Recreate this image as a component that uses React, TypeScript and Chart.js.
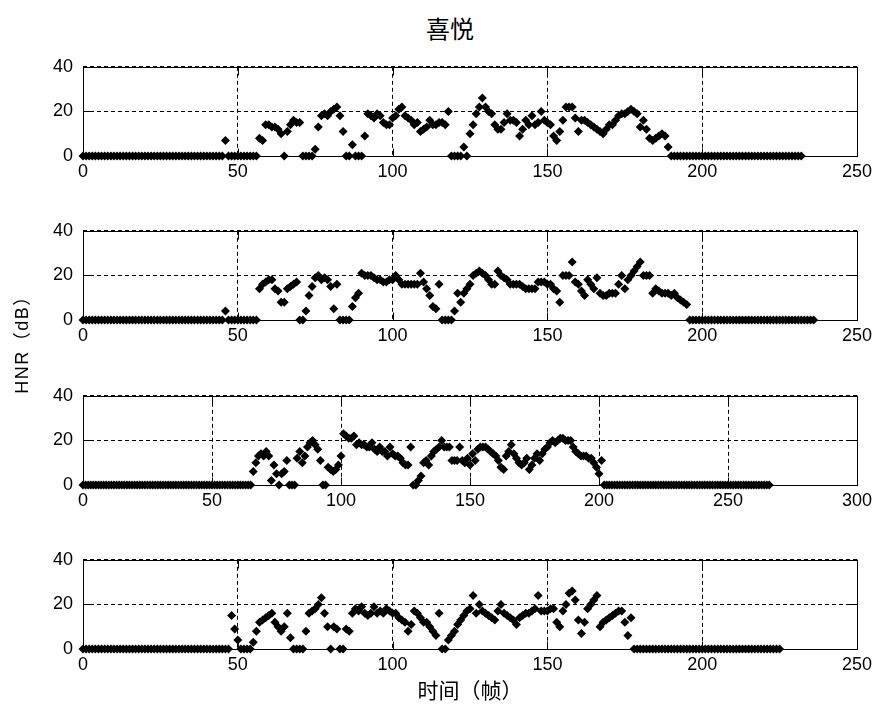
import React, { useEffect, useRef } from "react";
import { Chart, registerables } from "chart.js";

Chart.register(...registerables);

const titleText = "喜悦";
const yLabelText = "HNR（dB）";
const xLabelText = "时间（帧）";

const yTickStep = 20;
const yMin = 0;
const yMax = 40;
const xTickStep = 50;
const xMaxes = [250, 250, 300, 250];

// HNR (dB) per frame, panel 1..4 (frame index = array position)
const hnr1 = [
  0, 0, 0, 0, 0, 0, 0, 0, 0, 0, 0, 0, 0, 0, 0, 0, 0, 0, 0, 0,
  0, 0, 0, 0, 0, 0, 0, 0, 0, 0, 0, 0, 0, 0, 0, 0, 0, 0, 0, 0,
  0, 0, 0, 0, 0, 0, 7, 0, 0, 0, 0, 0, 0, 0, 0, 0, 0,
  8, 7, 14, 14, 13, 13, 12, 10, 0, 11,
  14, 16, 15, 15, 0, 0, 0, 0, 3, 13,
  18, 19, 18, 20, 21, 22, 18, 11, 0, 0,
  5, 0, 0, 0, 9, 19, 18, 17, 19, 18,
  15, 14, 14, 17, 18, 21, 22, 18, 17, 16,
  14, 15, 11, 12, 13, 16, 14, 14, 15, 15,
  14, 20, 0, 0, 0, 0, 4, 0, 10, 14,
  19, 22, 26, 22, 20, 19, 14, 12, 12, 15,
  19, 16, 16, 15, 9, 12, 16, 14, 18, 14,
  15, 20, 16, 15, 14, 9, 7, 11, 16, 22,
  22, 22, 17, 11, 16, 16, 15, 14, 13, 12,
  11, 10, 12, 14, 14, 16, 18, 19, 19, 20,
  21, 20, 19, 13, 16, 12, 8, 7, 8, 9,
  10, 9, 4,
  0, 0, 0, 0, 0, 0, 0, 0, 0, 0, 0, 0, 0, 0, 0, 0, 0, 0, 0, 0,
  0, 0, 0, 0, 0, 0, 0, 0, 0, 0, 0, 0, 0, 0, 0, 0, 0, 0, 0, 0,
  0, 0, 0,
];

const hnr2 = [
  0, 0, 0, 0, 0, 0, 0, 0, 0, 0, 0, 0, 0, 0, 0, 0, 0, 0, 0, 0,
  0, 0, 0, 0, 0, 0, 0, 0, 0, 0, 0, 0, 0, 0, 0, 0, 0, 0, 0, 0,
  0, 0, 0, 0, 0, 0, 4, 0, 0, 0, 0, 0, 0, 0, 0, 0, 0,
  14, 16, 17, 18, 18, 14, 13, 8, 8, 14,
  15, 16, 17, 0, 0, 4, 11, 15, 19, 20,
  18, 19, 18, 15, 5, 16, 0, 0, 0, 0,
  6, 10, 12, 21, 20, 20, 20, 19, 18, 18,
  17, 17, 18, 18, 20, 18, 16, 16, 16, 16,
  16, 16, 21, 17, 14, 11, 6, 5, 16, 0,
  0, 0, 0, 4, 12, 8, 12, 14, 16, 20,
  21, 22, 21, 20, 18, 16, 16, 22, 20, 19,
  18, 16, 16, 16, 16, 15, 14, 14, 14, 14,
  17, 17, 17, 16, 16, 14, 13, 8, 20, 20,
  20, 26, 17, 16, 13, 11, 18, 16, 14, 19,
  12, 11, 11, 12, 12, 12, 16, 20, 14, 18,
  20, 22, 24, 26, 20, 20, 20, 12, 14, 13,
  12, 12, 12, 11, 12, 10, 9, 8, 7,
  0, 0, 0, 0, 0, 0, 0, 0, 0, 0, 0, 0, 0, 0, 0, 0, 0, 0, 0, 0,
  0, 0, 0, 0, 0, 0, 0, 0, 0, 0, 0, 0, 0, 0, 0, 0, 0, 0, 0, 0,
  0,
];

const hnr3 = [
  0, 0, 0, 0, 0, 0, 0, 0, 0, 0, 0, 0, 0, 0, 0, 0, 0, 0, 0, 0,
  0, 0, 0, 0, 0, 0, 0, 0, 0, 0, 0, 0, 0, 0, 0, 0, 0, 0, 0, 0,
  0, 0, 0, 0, 0, 0, 0, 0, 0, 0, 0, 0, 0, 0, 0, 0, 0, 0, 0, 0,
  0, 0, 0, 0, 0, 0,
  6, 10, 13, 14, 13, 15, 13, 2, 9, 5,
  0, 5, 6, 11, 0, 0, 0, 12, 15, 10,
  13, 17, 19, 20, 18, 16, 11, 0, 0, 8,
  7, 6, 7, 9, 13, 23, 22, 21, 21, 22,
  18, 19, 18, 18, 17, 17, 19, 16, 15, 17,
  15, 15, 13, 17, 14, 13, 13, 12, 10, 9,
  9, 17, 0, 0, 2, 4, 10, 11, 9, 13,
  15, 16, 17, 20, 17, 17, 17, 11, 11, 11,
  17, 11, 10, 12, 9, 14, 11, 16, 17, 17,
  17, 16, 15, 14, 13, 11, 8, 7, 13, 15,
  18, 14, 12, 10, 9, 10, 12, 7, 9, 12,
  14, 11, 14, 16, 17, 19, 20, 19, 20, 21,
  21, 20, 20, 20, 17, 15, 14, 13, 13, 13,
  12, 12, 10, 8, 5, 11,
  0, 0, 0, 0, 0, 0, 0, 0, 0, 0, 0, 0, 0, 0, 0, 0, 0, 0, 0, 0,
  0, 0, 0, 0, 0, 0, 0, 0, 0, 0, 0, 0, 0, 0, 0, 0, 0, 0, 0, 0,
  0, 0, 0, 0, 0, 0, 0, 0, 0, 0, 0, 0, 0, 0, 0, 0, 0, 0, 0, 0,
  0, 0, 0, 0, 0,
];

const hnr4 = [
  0, 0, 0, 0, 0, 0, 0, 0, 0, 0, 0, 0, 0, 0, 0, 0, 0, 0, 0, 0,
  0, 0, 0, 0, 0, 0, 0, 0, 0, 0, 0, 0, 0, 0, 0, 0, 0, 0, 0, 0,
  0, 0, 0, 0, 0, 0, 0, 0,
  15, 9, 4, 0, 0, 0, 0, 3, 8, 12,
  13, 14, 15, 16, 12, 10, 8, 10, 16, 5,
  0, 0, 0, 0, 8, 16, 17, 18, 20, 23,
  16, 10, 0, 10, 9, 0, 0, 9, 8, 16,
  18, 17, 19, 16, 15, 16, 19, 16, 17, 16,
  18, 17, 16, 16, 14, 13, 12, 8, 11, 17,
  16, 14, 12, 12, 10, 8, 6, 16, 0, 0,
  4, 6, 8, 11, 13, 15, 17, 18, 24, 16,
  20, 17, 16, 15, 14, 13, 17, 20, 16, 15,
  14, 13, 11, 14, 15, 16, 16, 17, 18, 24,
  17, 17, 17, 18, 18, 12, 10, 17, 20, 25,
  26, 22, 13, 7, 12, 18, 20, 22, 24, 10,
  12, 13, 14, 15, 16, 17, 17, 12, 6, 14,
  0, 0, 0, 0, 0, 0, 0, 0, 0, 0, 0, 0, 0, 0, 0, 0, 0, 0, 0, 0,
  0, 0, 0, 0, 0, 0, 0, 0, 0, 0, 0, 0, 0, 0, 0, 0, 0, 0, 0, 0,
  0, 0, 0, 0, 0, 0, 0, 0,
];

const series = [hnr1, hnr2, hnr3, hnr4];

// layout (page pixels)
const panelTops = [58, 222, 387, 551];
const plotHeight = 98;
const padTop = 12;
const xAxisHeight = 34;
const yAxisWidth = 83;
const padRight = 22;
const W = 879;
const tickFont = { size: 18, family: "'Liberation Sans', Arial, sans-serif" };

const matlabBox = {
  id: "matlabBox",
  beforeDatasetsDraw(chart: any) {
    const { ctx, chartArea: a, scales } = chart;
    ctx.save();
    ctx.strokeStyle = "#000";
    ctx.lineWidth = 1;
    ctx.setLineDash([]);
    const l = Math.round(a.left) + 0.5;
    const t = Math.round(a.top) + 0.5;
    const r = Math.round(a.right) + 0.5;
    const b = Math.round(a.bottom) + 0.5;
    ctx.strokeRect(l, t, r - l, b - t);
    const L = 8;
    ctx.beginPath();
    scales.x.ticks.forEach((tk: any) => {
      const p = Math.round(scales.x.getPixelForValue(tk.value)) + 0.5;
      ctx.moveTo(p, t);
      ctx.lineTo(p, t + L);
      ctx.moveTo(p, b);
      ctx.lineTo(p, b - L);
    });
    scales.y.ticks.forEach((tk: any) => {
      const p = Math.round(scales.y.getPixelForValue(tk.value)) + 0.5;
      ctx.moveTo(l, p);
      ctx.lineTo(l + L, p);
      ctx.moveTo(r, p);
      ctx.lineTo(r - L, p);
    });
    ctx.stroke();
    ctx.restore();
  },
};

function Panel({ values, xMax, top }: { values: number[]; xMax: number; top: number }) {
  const ref = useRef<HTMLCanvasElement>(null);
  const H = padTop + plotHeight + xAxisHeight;
  useEffect(() => {
    const chart = new Chart(ref.current as HTMLCanvasElement, {
      type: "scatter",
      data: {
        datasets: [
          {
            data: values.map((v, i) => ({ x: i, y: v })),
            pointStyle: "rectRot",
            pointRadius: 4.5,
            pointBackgroundColor: "#000",
            pointBorderWidth: 0,
            borderWidth: 0,
            clip: false,
          } as any,
        ],
      },
      options: {
        animation: false,
        responsive: false,
        maintainAspectRatio: false,
        events: [],
        layout: { padding: { top: padTop, right: padRight, left: 0, bottom: 0 } },
        plugins: { legend: { display: false }, tooltip: { enabled: false } },
        scales: {
          x: {
            type: "linear",
            min: 0,
            max: xMax,
            ticks: {
              stepSize: xTickStep,
              color: "#000",
              font: tickFont,
              padding: 5,
              maxRotation: 0,
              autoSkip: false,
            },
            grid: { color: "#000", lineWidth: 1, drawTicks: false, borderDash: [4, 3] } as any,
            border: { display: false, dash: [4, 3] },
            afterFit: (s: any) => {
              s.height = xAxisHeight;
            },
          },
          y: {
            type: "linear",
            min: yMin,
            max: yMax,
            ticks: { stepSize: yTickStep, color: "#000", font: tickFont, padding: 10 },
            grid: { color: "#000", lineWidth: 1, drawTicks: false, borderDash: [4, 3] } as any,
            border: { display: false, dash: [4, 3] },
            afterFit: (s: any) => {
              s.width = yAxisWidth;
            },
          },
        },
      },
      plugins: [matlabBox],
    });
    return () => chart.destroy();
  }, []);
  return (
    <canvas
      ref={ref}
      width={W}
      height={H}
      style={{ position: "absolute", left: 0, top: top - padTop, width: W, height: H }}
    />
  );
}

export default function App() {
  return (
    <div
      style={{
        position: "absolute",
        left: 0,
        top: 0,
        width: W,
        height: 710,
        background: "#fff",
        overflow: "hidden",
      }}
    >
      <div
        style={{
          position: "absolute",
          left: 350,
          width: 200,
          top: 13,
          textAlign: "center",
          fontFamily: "'Noto Sans CJK SC', sans-serif",
          fontSize: 24,
          lineHeight: "30px",
          color: "#000",
        }}
      >
        {titleText}
      </div>
      {series.map((vals, i) => (
        <Panel key={i} values={vals} xMax={xMaxes[i]} top={panelTops[i]} />
      ))}
      <div
        style={{
          position: "absolute",
          left: 370,
          width: 200,
          top: 675,
          textAlign: "center",
          fontFamily: "'Noto Sans CJK SC', sans-serif",
          fontSize: 21,
          lineHeight: "28px",
          color: "#000",
        }}
      >
        {xLabelText}
      </div>
      <div
        style={{
          position: "absolute",
          left: 22 - 100,
          top: 340 - 12,
          width: 200,
          height: 24,
          lineHeight: "24px",
          textAlign: "center",
          transform: "rotate(-90deg)",
          fontFamily: "'Liberation Sans', 'Noto Sans CJK SC', sans-serif",
          fontSize: 18,
          letterSpacing: "1.5px",
          color: "#000",
        }}
      >
        {yLabelText}
      </div>
    </div>
  );
}
